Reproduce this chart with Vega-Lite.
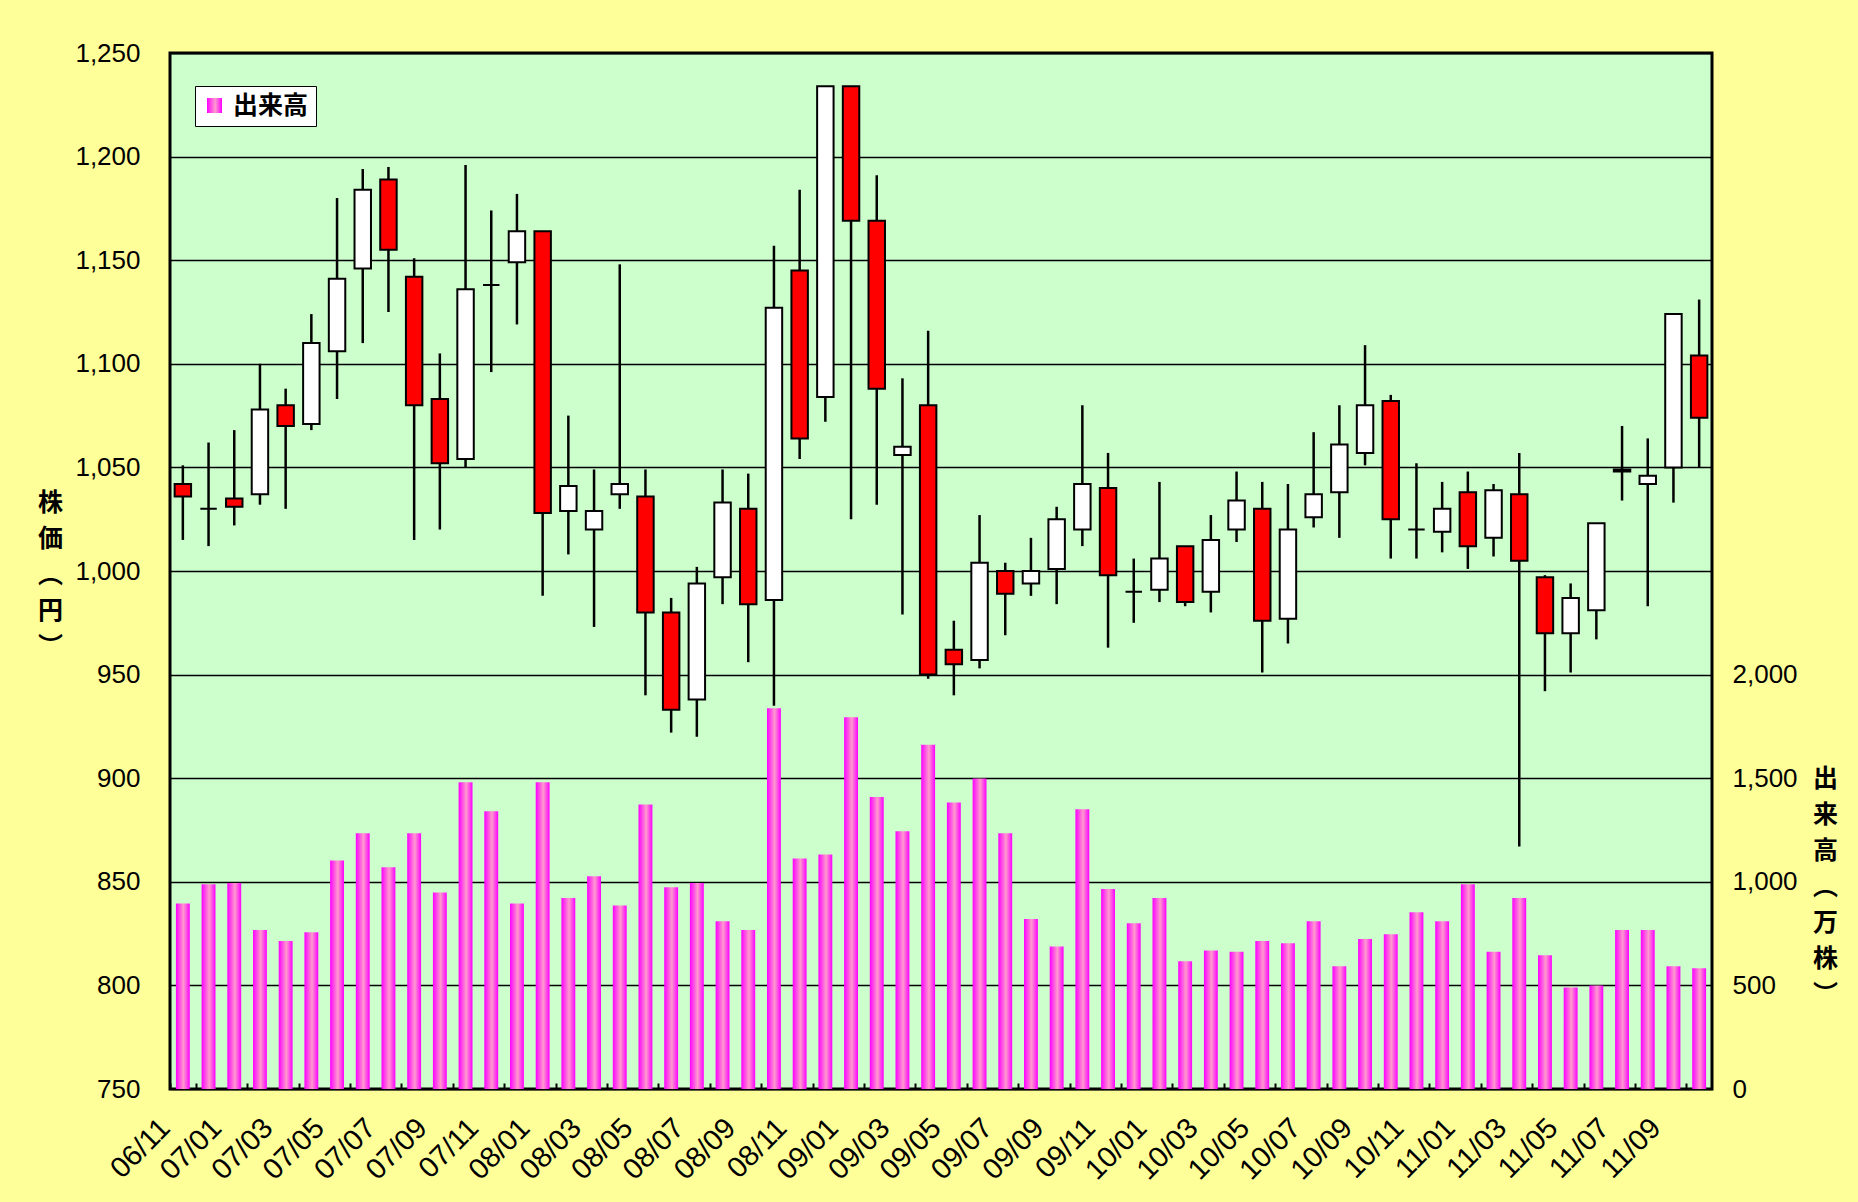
{
  "$schema": "https://vega.github.io/schema/vega-lite/v6.json",
  "width": 1542,
  "height": 1036,
  "autosize": "none",
  "padding": {"left": 170, "top": 53, "right": 146, "bottom": 113},
  "background": "#FFFF99",
  "config": {
    "view": {"fill": "#CCFFCC", "stroke": "#000000", "strokeWidth": 3},
    "axis": {"labelFont": "Liberation Sans", "labelFontSize": 26, "labelColor": "#000000", "domain": false, "titleColor": "#000000"},
    "legend": {"labelFont": "Noto Sans CJK JP", "labelFontSize": 25, "labelFontWeight": "bold", "labelColor": "#000000"}
  },
  "data": {
    "values": [
      {"m": "06/11", "o": 1042, "h": 1051, "l": 1015, "c": 1036, "v": 895},
      {"m": "06/12", "o": 1030, "h": 1062, "l": 1012, "c": 1030, "v": 988},
      {"m": "07/01", "o": 1035, "h": 1068, "l": 1022, "c": 1031, "v": 994},
      {"m": "07/02", "o": 1037, "h": 1100, "l": 1032, "c": 1078, "v": 767},
      {"m": "07/03", "o": 1080, "h": 1088, "l": 1030, "c": 1070, "v": 714},
      {"m": "07/04", "o": 1071, "h": 1124, "l": 1068, "c": 1110, "v": 757},
      {"m": "07/05", "o": 1106, "h": 1180, "l": 1083, "c": 1141, "v": 1103},
      {"m": "07/06", "o": 1146, "h": 1194, "l": 1110, "c": 1184, "v": 1234},
      {"m": "07/07", "o": 1189, "h": 1195, "l": 1125, "c": 1155, "v": 1070},
      {"m": "07/08", "o": 1142, "h": 1151, "l": 1015, "c": 1080, "v": 1234},
      {"m": "07/09", "o": 1083, "h": 1105, "l": 1020, "c": 1052, "v": 948},
      {"m": "07/10", "o": 1054, "h": 1196, "l": 1050, "c": 1136, "v": 1481},
      {"m": "07/11", "o": 1138, "h": 1174, "l": 1096, "c": 1138, "v": 1340},
      {"m": "07/12", "o": 1149, "h": 1182, "l": 1119, "c": 1164, "v": 895},
      {"m": "08/01", "o": 1164, "h": 1164, "l": 988, "c": 1028, "v": 1481},
      {"m": "08/02", "o": 1029, "h": 1075, "l": 1008, "c": 1041, "v": 922},
      {"m": "08/03", "o": 1020, "h": 1049, "l": 973, "c": 1029, "v": 1027},
      {"m": "08/04", "o": 1037, "h": 1148, "l": 1030, "c": 1042, "v": 886},
      {"m": "08/05", "o": 1036, "h": 1049, "l": 940, "c": 980, "v": 1373},
      {"m": "08/06", "o": 980, "h": 987, "l": 922, "c": 933, "v": 974},
      {"m": "08/07", "o": 938, "h": 1002, "l": 920, "c": 994, "v": 994},
      {"m": "08/08", "o": 997, "h": 1049, "l": 984, "c": 1033, "v": 810},
      {"m": "08/09", "o": 1030, "h": 1047, "l": 956, "c": 984, "v": 767},
      {"m": "08/10", "o": 986, "h": 1157, "l": 935, "c": 1127, "v": 1837},
      {"m": "08/11", "o": 1145, "h": 1184, "l": 1054, "c": 1064, "v": 1113},
      {"m": "08/12", "o": 1084, "h": 1234, "l": 1072, "c": 1234, "v": 1132},
      {"m": "09/01", "o": 1234, "h": 1234, "l": 1025, "c": 1169, "v": 1794},
      {"m": "09/02", "o": 1169, "h": 1191, "l": 1032, "c": 1088, "v": 1409},
      {"m": "09/03", "o": 1056, "h": 1093, "l": 979, "c": 1060, "v": 1244},
      {"m": "09/04", "o": 1080, "h": 1116, "l": 948, "c": 950, "v": 1662},
      {"m": "09/05", "o": 962, "h": 976, "l": 940, "c": 955, "v": 1383},
      {"m": "09/06", "o": 957, "h": 1027, "l": 953, "c": 1004, "v": 1498},
      {"m": "09/07", "o": 1000, "h": 1004, "l": 969, "c": 989, "v": 1234},
      {"m": "09/08", "o": 994, "h": 1016, "l": 988, "c": 1000, "v": 820},
      {"m": "09/09", "o": 1001, "h": 1031, "l": 984, "c": 1025, "v": 688},
      {"m": "09/10", "o": 1020, "h": 1080, "l": 1012, "c": 1042, "v": 1350},
      {"m": "09/11", "o": 1040, "h": 1057, "l": 963, "c": 998, "v": 965},
      {"m": "09/12", "o": 990, "h": 1006, "l": 975, "c": 990, "v": 800},
      {"m": "10/01", "o": 991, "h": 1043, "l": 985, "c": 1006, "v": 922},
      {"m": "10/02", "o": 1012, "h": 1012, "l": 983, "c": 985, "v": 616},
      {"m": "10/03", "o": 990, "h": 1027, "l": 980, "c": 1015, "v": 668},
      {"m": "10/04", "o": 1020, "h": 1048, "l": 1014, "c": 1034, "v": 662},
      {"m": "10/05", "o": 1030, "h": 1043, "l": 951, "c": 976, "v": 714},
      {"m": "10/06", "o": 977, "h": 1042, "l": 965, "c": 1020, "v": 704},
      {"m": "10/07", "o": 1026, "h": 1067, "l": 1021, "c": 1037, "v": 810},
      {"m": "10/08", "o": 1038, "h": 1080, "l": 1016, "c": 1061, "v": 593},
      {"m": "10/09", "o": 1057, "h": 1109, "l": 1051, "c": 1080, "v": 724},
      {"m": "10/10", "o": 1082, "h": 1085, "l": 1006, "c": 1025, "v": 747},
      {"m": "10/11", "o": 1020, "h": 1052, "l": 1006, "c": 1020, "v": 853},
      {"m": "10/12", "o": 1019, "h": 1043, "l": 1009, "c": 1030, "v": 810},
      {"m": "11/01", "o": 1038, "h": 1048, "l": 1001, "c": 1012, "v": 988},
      {"m": "11/02", "o": 1016, "h": 1042, "l": 1007, "c": 1039, "v": 662},
      {"m": "11/03", "o": 1037, "h": 1057, "l": 867, "c": 1005, "v": 922},
      {"m": "11/04", "o": 997, "h": 998, "l": 942, "c": 970, "v": 645},
      {"m": "11/05", "o": 970, "h": 994, "l": 951, "c": 987, "v": 490},
      {"m": "11/06", "o": 981, "h": 1023, "l": 967, "c": 1023, "v": 500},
      {"m": "11/07", "o": 1049, "h": 1070, "l": 1034, "c": 1048, "v": 767},
      {"m": "11/08", "o": 1042, "h": 1064, "l": 983, "c": 1046, "v": 767},
      {"m": "11/09", "o": 1050, "h": 1124, "l": 1033, "c": 1124, "v": 593},
      {"m": "11/10", "o": 1104, "h": 1131, "l": 1050, "c": 1074, "v": 583}
    ]
  },
  "encoding": {
    "x": {
      "field": "m",
      "type": "ordinal",
      "sort": null,
      "scale": {"paddingInner": 0, "paddingOuter": 0},
      "axis": {
        "title": null,
        "values": ["06/11","07/01","07/03","07/05","07/07","07/09","07/11","08/01","08/03","08/05","08/07","08/09","08/11","09/01","09/03","09/05","09/07","09/09","09/11","10/01","10/03","10/05","10/07","10/09","10/11","11/01","11/03","11/05","11/07","11/09"],
        "labelAngle": -45,
        "labelAlign": "right",
        "labelBaseline": "middle",
        "labelFontSize": 29,
        "labelOffset": -18,
        "labelPadding": 40,
        "tickSize": -6,
        "tickWidth": 2,
        "tickColor": "#000000",
        "tickBand": "extent",
        "grid": false
      }
    }
  },
  "layer": [
    {
      "mark": {
        "type": "bar",
        "width": {"band": 0.54},
        "color": {"gradient": "linear", "x1": 0, "y1": 0, "x2": 1, "y2": 0,
          "stops": [{"offset": 0, "color": "#FF00FF"}, {"offset": 0.55, "color": "#FF9ACD"}, {"offset": 1, "color": "#FF00FF"}]}
      },
      "encoding": {
        "y": {
          "field": "v",
          "type": "quantitative",
          "scale": {"domain": [0, 5000], "nice": false, "zero": true},
          "axis": {
            "orient": "right",
            "values": [0, 500, 1000, 1500, 2000],
            "format": ",.0f",
            "grid": false,
            "tickSize": 0,
            "labelPadding": 20,
            "title": ["出", "来", "高", "︵", "万", "株", "︶"],
            "titleAngle": 0,
            "titleX": 113,
            "titleY": 725,
            "titleAlign": "center",
            "titleBaseline": "middle",
            "titleFont": "Noto Sans CJK JP",
            "titleFontSize": 25,
            "titleFontWeight": "bold",
            "titleLineHeight": 36
          }
        },
        "opacity": {
          "datum": "出来高",
          "type": "nominal",
          "scale": {"range": [1]},
          "legend": {
            "title": null,
            "orient": "none",
            "legendX": 25,
            "legendY": 33,
            "symbolType": "square",
            "symbolSize": 225,
            "symbolFillColor": "#FF80E0",
            "symbolStrokeWidth": 0,
            "symbolOpacity": 1,
            "fillColor": "#FFFFFF",
            "strokeColor": "#000000",
            "padding": 7,
            "labelOffset": 6
          }
        }
      }
    },
    {
      "layer": [
        {
          "mark": {"type": "rule", "color": "#000000", "strokeWidth": 2.5},
          "encoding": {
            "y": {
              "field": "l",
              "type": "quantitative",
              "scale": {"domain": [750, 1250], "nice": false, "zero": false},
              "axis": {
                "orient": "left",
                "values": [750, 800, 850, 900, 950, 1000, 1050, 1100, 1150, 1200, 1250],
                "format": ",.0f",
                "grid": true,
                "gridColor": "#000000",
                "gridWidth": 1.5,
                "gridOpacity": 1,
                "tickSize": 0,
                "labelPadding": 30,
                "title": ["株", "価", "︵", "円", "︶"],
                "titleAngle": 0,
                "titleX": -120,
                "titleY": 449,
                "titleAlign": "center",
                "titleBaseline": "middle",
                "titleFont": "Noto Sans CJK JP",
                "titleFontSize": 25,
                "titleFontWeight": "bold",
                "titleLineHeight": 36
              }
            },
            "y2": {"field": "h"}
          }
        },
        {
          "mark": {"type": "bar", "stroke": "#000000", "strokeWidth": 2, "width": {"band": 0.64}},
          "encoding": {
            "y": {"field": "o", "type": "quantitative"},
            "y2": {"field": "c"},
            "fill": {"condition": {"test": "datum.c > datum.o", "value": "#FFFFFF"}, "value": "#FF0000"}
          }
        }
      ]
    }
  ],
  "resolve": {"scale": {"y": "independent"}}
}
